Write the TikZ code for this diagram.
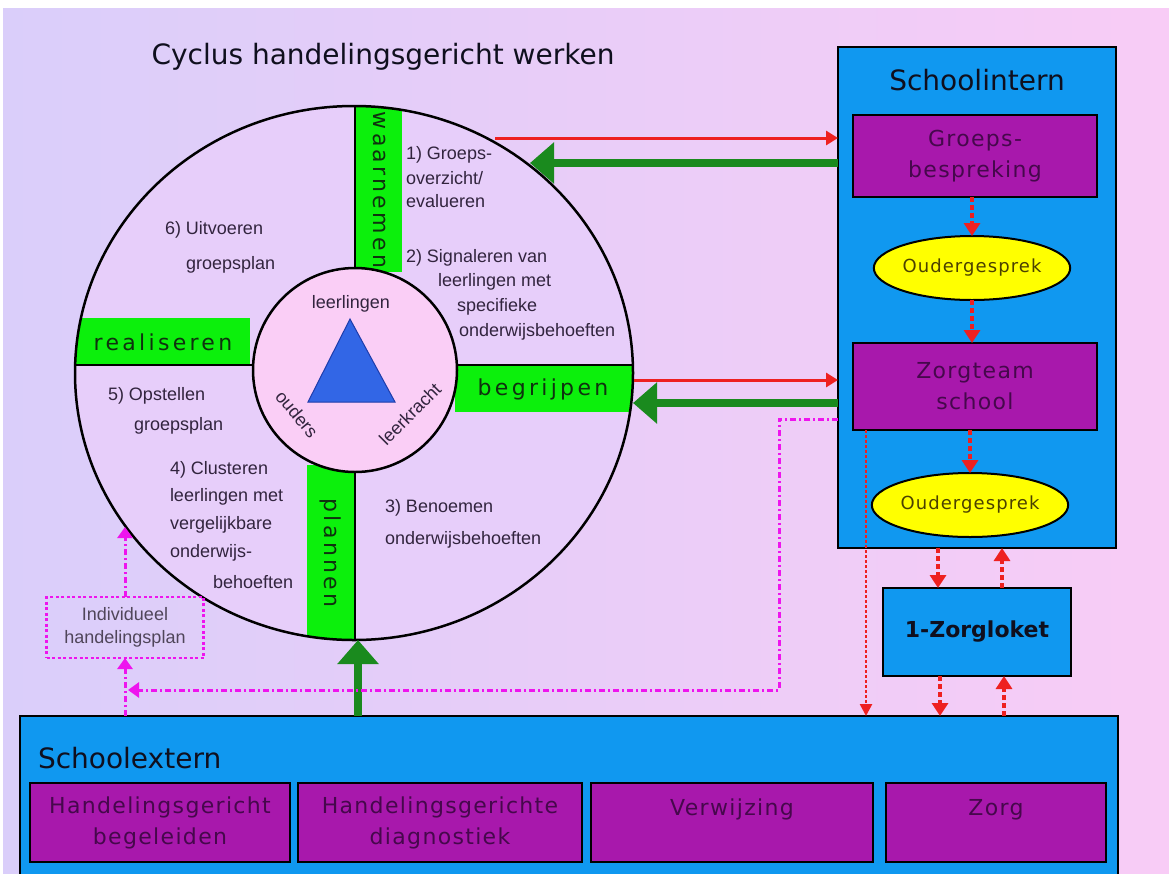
\documentclass[tikz,border=0pt]{standalone}
\usepackage{fontspec}
\setmainfont{Liberation Sans}
\newfontfamily\comic{DejaVu Sans}
\newfontfamily\comicsp[LetterSpace=6]{DejaVu Sans}
\newfontfamily\comicwide[LetterSpace=15]{DejaVu Sans}
\usetikzlibrary{arrows.meta,shapes.geometric}
\definecolor{bgL}{RGB}{218,206,250}
\definecolor{bgR}{RGB}{248,204,246}
\definecolor{circfill}{RGB}{231,206,250}
\definecolor{innerpink}{RGB}{250,206,246}
\definecolor{lgreen}{RGB}{12,240,12}
\definecolor{gtext}{RGB}{15,50,15}
\definecolor{dgreen}{RGB}{26,138,30}
\definecolor{ared}{RGB}{238,32,32}
\definecolor{sblue}{RGB}{16,152,240}
\definecolor{purp}{RGB}{168,24,172}
\definecolor{purptext}{RGB}{70,8,76}
\definecolor{yel}{RGB}{255,255,0}
\definecolor{oltext}{RGB}{75,65,0}
\definecolor{mag}{RGB}{238,20,238}
\definecolor{tri}{RGB}{50,102,230}
\definecolor{ctext}{RGB}{50,36,62}
\definecolor{ttext}{RGB}{15,15,30}
\begin{document}
\begin{tikzpicture}[x=1pt,y=-1pt,
  every node/.style={inner sep=0pt,outer sep=0pt},
  ctxt/.style={anchor=west,font=\fontsize{18}{21}\selectfont,text=ctext},
  itxt/.style={font=\fontsize{18}{21}\selectfont,text=ctext},
  glabel/.style={font=\comicwide\fontsize{22}{26}\selectfont,text=gtext},
  titlefont/.style={font=\comic\fontsize{28}{33}\selectfont,text=ttext},
  bluebox/.style={draw=black,line width=2.5pt,fill=sblue},
  purpbox/.style={draw=black,line width=2.5pt,fill=purp,text=purptext,font=\comicsp\fontsize{22}{31}\selectfont,align=center},
  ouder/.style={ellipse,draw=black,line width=2pt,fill=yel,minimum width=166pt,minimum height=64pt,font=\comicsp\fontsize{18}{21}\selectfont,text=oltext},
  redarr/.style={draw=ared,line width=3pt,-{Triangle[length=12pt,width=14pt]}},
  reddash/.style={draw=ared,line width=3.5pt,dash pattern=on 5pt off 3pt,-{Triangle[length=13pt,width=16pt]}},
  reddot/.style={draw=ared,line width=2.5pt,dash pattern=on 3pt off 2pt,-{Triangle[length=12pt,width=12pt]}},
  greenarr/.style={draw=dgreen,line width=8pt,-{Triangle[length=24pt,width=40pt]}},
  magdot/.style={draw=mag,line width=3pt,dash pattern=on 6pt off 3pt on 2pt off 3pt},
  magarr/.style={magdot,-{Triangle[length=11pt,width=15pt]}},
]
\clip (0,0) rectangle (1169,873);
\useasboundingbox (0,0) rectangle (1169,873);
\fill[white] (0,0) rectangle (1169,873);
\shade[left color=bgL,right color=bgR] (3,8) rectangle (1169,873);

% ---- cycle ----
\fill[circfill] (354,373) ellipse [x radius=279, y radius=267];
\begin{scope}
  \clip (354,373) ellipse [x radius=279, y radius=267];
  \fill[lgreen] (355,90) rectangle (402,272);
  \fill[lgreen] (307,465) rectangle (355,660);
  \fill[lgreen] (60,318) rectangle (250,365);
  \fill[lgreen] (455,365) rectangle (650,412);
  \draw[line width=2.5pt] (355,90) -- (355,660);
  \draw[line width=2.5pt] (60,365) -- (650,365);
\end{scope}
\node[ellipse,draw=black,line width=2.5pt,minimum width=558pt,minimum height=534pt] (cyc) at (354,373) {};
\node[circle,draw=black,line width=2.5pt,fill=innerpink,minimum size=204pt] (inner) at (355,370) {};
\draw[draw={rgb,255:red,30;green,60;blue,170},fill=tri,line width=1pt] (350,319) -- (308,402) -- (395,402) -- cycle;

\node[itxt] (lln) at (351,304) {leerlingen};
\node[itxt,rotate=-50] (oud) at (297,414) {ouders};
\node[itxt,rotate=45] (lkr) at (410,414) {leerkracht};

\node[glabel,rotate=-90] (waar) at (379,190) {waarnemen};
\node[glabel,rotate=-90] (plan) at (331,553) {plannen};
\node[glabel] (real) at (163,342) {realiseren};
\node[glabel] (begr) at (543,389) {begrijpen};

\node[titlefont] (title) at (383,57) {Cyclus handelingsgericht werken};

\node[ctxt] (t1a) at (406,155) {1) Groeps-};
\node[ctxt] (t1b) at (406,178) {overzicht/};
\node[ctxt] (t1c) at (406,201) {evalueren};
\node[ctxt] (t2a) at (406,258) {2) Signaleren van};
\node[ctxt] (t2b) at (438,282) {leerlingen met};
\node[ctxt] (t2c) at (457,307) {specifieke};
\node[ctxt] (t2d) at (459,332) {onderwijsbehoeften};
\node[ctxt] (t6a) at (165,230) {6) Uitvoeren};
\node[ctxt] (t6b) at (186,265) {groepsplan};
\node[ctxt] (t5a) at (108,396) {5) Opstellen};
\node[ctxt] (t5b) at (134,426) {groepsplan};
\node[ctxt] (t4a) at (170,470) {4) Clusteren};
\node[ctxt] (t4b) at (170,497) {leerlingen met};
\node[ctxt] (t4c) at (170,525) {vergelijkbare};
\node[ctxt] (t4d) at (170,553) {onderwijs-};
\node[ctxt] (t4e) at (213,582) {behoeften};
\node[ctxt] (t3a) at (385,508) {3) Benoemen};
\node[ctxt] (t3b) at (385,540) {onderwijsbehoeften};

% ---- schoolintern ----
\node[bluebox,minimum width=278pt,minimum height=501pt] (si) at (977,297.5) {};
\node[titlefont] (sit) at (977,80) {Schoolintern};
\node[purpbox,minimum width=244pt,minimum height=82pt] (gb) at (975,156) {Groeps-\\bespreking};
\node[ouder] (e1) at (972,268) {Oudergesprek};
\node[purpbox,minimum width=244pt,minimum height=87pt] (zt) at (975,386.5) {Zorgteam\\school};
\node[ouder] (e2) at (970,505) {Oudergesprek};
\draw[reddash] (e1.north |- gb.south) -- (e1.north);
\draw[reddash] (e1.south) -- (e1.south |- zt.north);
\draw[reddash] (e2.north |- zt.south) -- (e2.north);

% ---- zorgloket ----
\node[bluebox,minimum width=188pt,minimum height=88pt,font=\comic\bfseries\fontsize{22}{26}\selectfont,text=ttext] (zl) at (977,632) {1-Zorgloket};

% ---- schoolextern ----
\node[bluebox,minimum width=1098pt,minimum height=184pt] (se) at (569,808) {};
\node[titlefont,anchor=west] (set) at (38,758) {Schoolextern};
\node[purpbox,minimum width=260pt,minimum height=79pt] (p1) at (160,822.5) {Handelingsgericht\\begeleiden};
\node[purpbox,minimum width=284pt,minimum height=79pt] (p2) at (440,822.5) {Handelingsgerichte\\diagnostiek};
\node[purpbox,minimum width=282pt,minimum height=79pt] (p3) at (732,822.5) {Verwijzing\\~};
\node[purpbox,minimum width=220pt,minimum height=79pt] (p4) at (996,822.5) {Zorg\\~};

% ---- individueel ----
\node[draw=mag,line width=2.5pt,dash pattern=on 3pt off 2.5pt,minimum width=157pt,minimum height=61pt,align=center,font=\fontsize{18}{23}\selectfont,text={rgb,255:red,80;green,70;blue,90}] (ih) at (125,627.5) {Individueel\\handelingsplan};

% ---- connector coordinates ----
\coordinate (cr1) at (495,138);
\coordinate (cg1) at (530,163);
\coordinate (cr2) at (634,380);
\coordinate (cg2) at (633,403);
\coordinate (cbot) at (358,640);
\coordinate (cih) at (125,527);
\coordinate (m1) at (779,419);
\coordinate (m2) at (779,690);
\coordinate (m3) at (128,690);
\coordinate (xa) at (938,0);
\coordinate (xb) at (1002,0);
\coordinate (xc) at (940,0);
\coordinate (xd) at (1004,0);
\coordinate (xz) at (866,0);

\draw[redarr] (cr1) -- (cr1 -| si.west);
\draw[greenarr] (si.west |- cg1) -- (cg1);
\draw[redarr] (cr2) -- (cr2 -| si.west);
\draw[greenarr] (si.west |- cg2) -- (cg2);
\draw[greenarr] (se.north -| cbot) -- (cbot);

\draw[reddash] (si.south -| xa) -- (zl.north -| xa);
\draw[reddash] (zl.north -| xb) -- (si.south -| xb);
\draw[reddash] (zl.south -| xc) -- (se.north -| xc);
\draw[reddash] (se.north -| xd) -- (zl.south -| xd);
\draw[reddot] (zt.south -| xz) -- (se.north -| xz);

\draw[magarr] (si.west |- m1) -- (m1) -- (m2) -- (m3);
\draw[magarr] (se.north -| ih.south) -- (ih.south);
\draw[magarr] (ih.north) -- (cih);
\end{tikzpicture}
\end{document}
